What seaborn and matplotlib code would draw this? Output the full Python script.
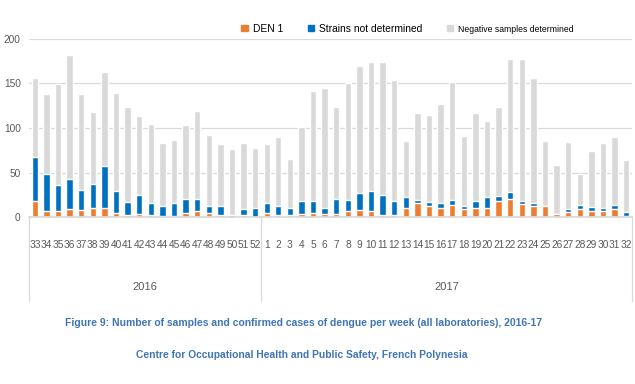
import matplotlib
matplotlib.use("Agg")
import matplotlib.pyplot as plt
import matplotlib.transforms as mtransforms
from matplotlib.patches import Patch
import seaborn as sns
import numpy as np
import pandas as pd

# weeks 33-52 of 2016, then 1-32 of 2017
weeks = [str(w) for w in list(range(33, 53)) + list(range(1, 33))]

den1 = [18, 7, 7, 9, 8, 11, 10, 5, 3, 4, 3, 1, 1, 5, 7, 5, 3, 0, 3, 0,
        5, 3, 3, 4, 5, 4, 4, 7, 8, 7, 3, 3, 11, 16, 13, 11, 14, 9, 11, 11,
        18, 21, 15, 13, 13, 4, 6, 9, 7, 7, 9, 1]
not_determined = [49, 42, 29, 34, 23, 26, 47, 25, 14, 21, 13, 12, 15, 16, 14, 8, 10, 3, 6, 10,
                  11, 10, 8, 14, 13, 7, 17, 13, 19, 22, 22, 15, 12, 4, 4, 5, 6, 4, 7, 12,
                  6, 7, 3, 3, 0, 0, 3, 5, 5, 4, 5, 5]
negative = [89, 89, 113, 139, 107, 81, 106, 109, 106, 88, 88, 70, 71, 82, 98, 79, 69, 74, 74, 68,
            66, 77, 54, 83, 123, 134, 102, 130, 142, 145, 149, 136, 63, 97, 97, 111, 132, 78, 99, 85,
            100, 149, 159, 140, 73, 55, 75, 35, 62, 72, 76, 58]

years = ["2016", "2017"]
n_2016 = 20

ORANGE = "#ed7d31"
BLUE = "#0070c0"
GREY = "#d9d9d9"
TXT = "#595959"
CAPTION = "#3f75b5"

df = pd.DataFrame({"pos": range(len(weeks)), "den1": den1,
                   "nd": not_determined, "neg": negative})
df["positive"] = df["den1"] + df["nd"]
df["total"] = df["positive"] + df["neg"]

sns.set_theme(style="white")
plt.rcParams["font.family"] = ["Liberation Sans", "DejaVu Sans"]

fig = plt.figure(figsize=(6.35, 3.84), dpi=100)
ax = fig.add_axes([0.0457, 0.4339, 0.9495, 0.4656])

# stacked bars: draw the full stack first, then the lower parts on top
sns.barplot(data=df, x="pos", y="total", color=GREY, saturation=1, width=0.55, ax=ax)
sns.barplot(data=df, x="pos", y="positive", color=BLUE, saturation=1, width=0.55, ax=ax)
sns.barplot(data=df, x="pos", y="den1", color=ORANGE, saturation=1, width=0.55, ax=ax)

ax.set_xlim(-0.5, len(weeks) - 0.5)
ax.set_ylim(0, 200)
ax.set_yticks([0, 50, 100, 150, 200])
ax.yaxis.grid(True, color=GREY, lw=0.9)
ax.set_axisbelow(True)
for s in ["top", "right", "left"]:
    ax.spines[s].set_visible(False)
ax.spines["bottom"].set_color(GREY)
ax.set_xlabel("")
ax.set_ylabel("")
ax.set_xticks(range(len(weeks)))
ax.set_xticklabels(weeks)
ax.tick_params(axis="x", length=0, pad=16, labelsize=7.3, labelcolor=TXT)
ax.tick_params(axis="y", length=0, pad=6, labelsize=7.3, labelcolor=TXT)

# year groups below the week labels
trans = mtransforms.blended_transform_factory(ax.transData, ax.transAxes)
for xs in [-0.5, n_2016 - 0.5, len(weeks) - 0.5]:
    ax.plot([xs, xs], [0, -0.465], transform=trans, color=GREY, lw=0.9, clip_on=False)
ax.text((n_2016 - 1) / 2, -0.39, years[0], transform=trans, ha="center", va="center",
        fontsize=8, color=TXT)
ax.text((n_2016 + len(weeks) - 1) / 2, -0.39, years[1], transform=trans, ha="center",
        va="center", fontsize=8, color=TXT)

handles = [Patch(color=ORANGE, label="DEN 1"),
           Patch(color=BLUE, label="Strains not determined"),
           Patch(color=GREY, label="Negative samples determined")]
leg = fig.legend(handles=handles, ncol=3, loc="center", bbox_to_anchor=(0.642, 0.925),
                 frameon=True, facecolor="white", edgecolor="none", fontsize=7.4,
                 handlelength=0.6, handleheight=0.6, handletextpad=0.5, columnspacing=2.4,
                 borderpad=0.2)
for t in leg.get_texts():
    t.set_color("black")
leg.get_texts()[2].set_fontsize(6.2)

cap1 = fig.text(0.478, 1 - 323 / 384,
                "Figure 9: Number of samples and confirmed cases of dengue per week (all laboratories), 2016-17",
                ha="center", va="center", color=CAPTION, fontsize=8, fontweight="bold")
cap2 = fig.text(0.476, 1 - 355 / 384,
                "Centre for Occupational Health and Public Safety, French Polynesia",
                ha="center", va="center", color=CAPTION, fontsize=8, fontweight="bold")

# size the captions to the widths they take in the reference
fig.canvas.draw()
renderer = fig.canvas.get_renderer()
for t, target in [(cap1, 478), (cap2, 330)]:
    w = t.get_window_extent(renderer).width
    t.set_fontsize(t.get_fontsize() * target / w)

fig.savefig("out.png", dpi=100, facecolor="white")
